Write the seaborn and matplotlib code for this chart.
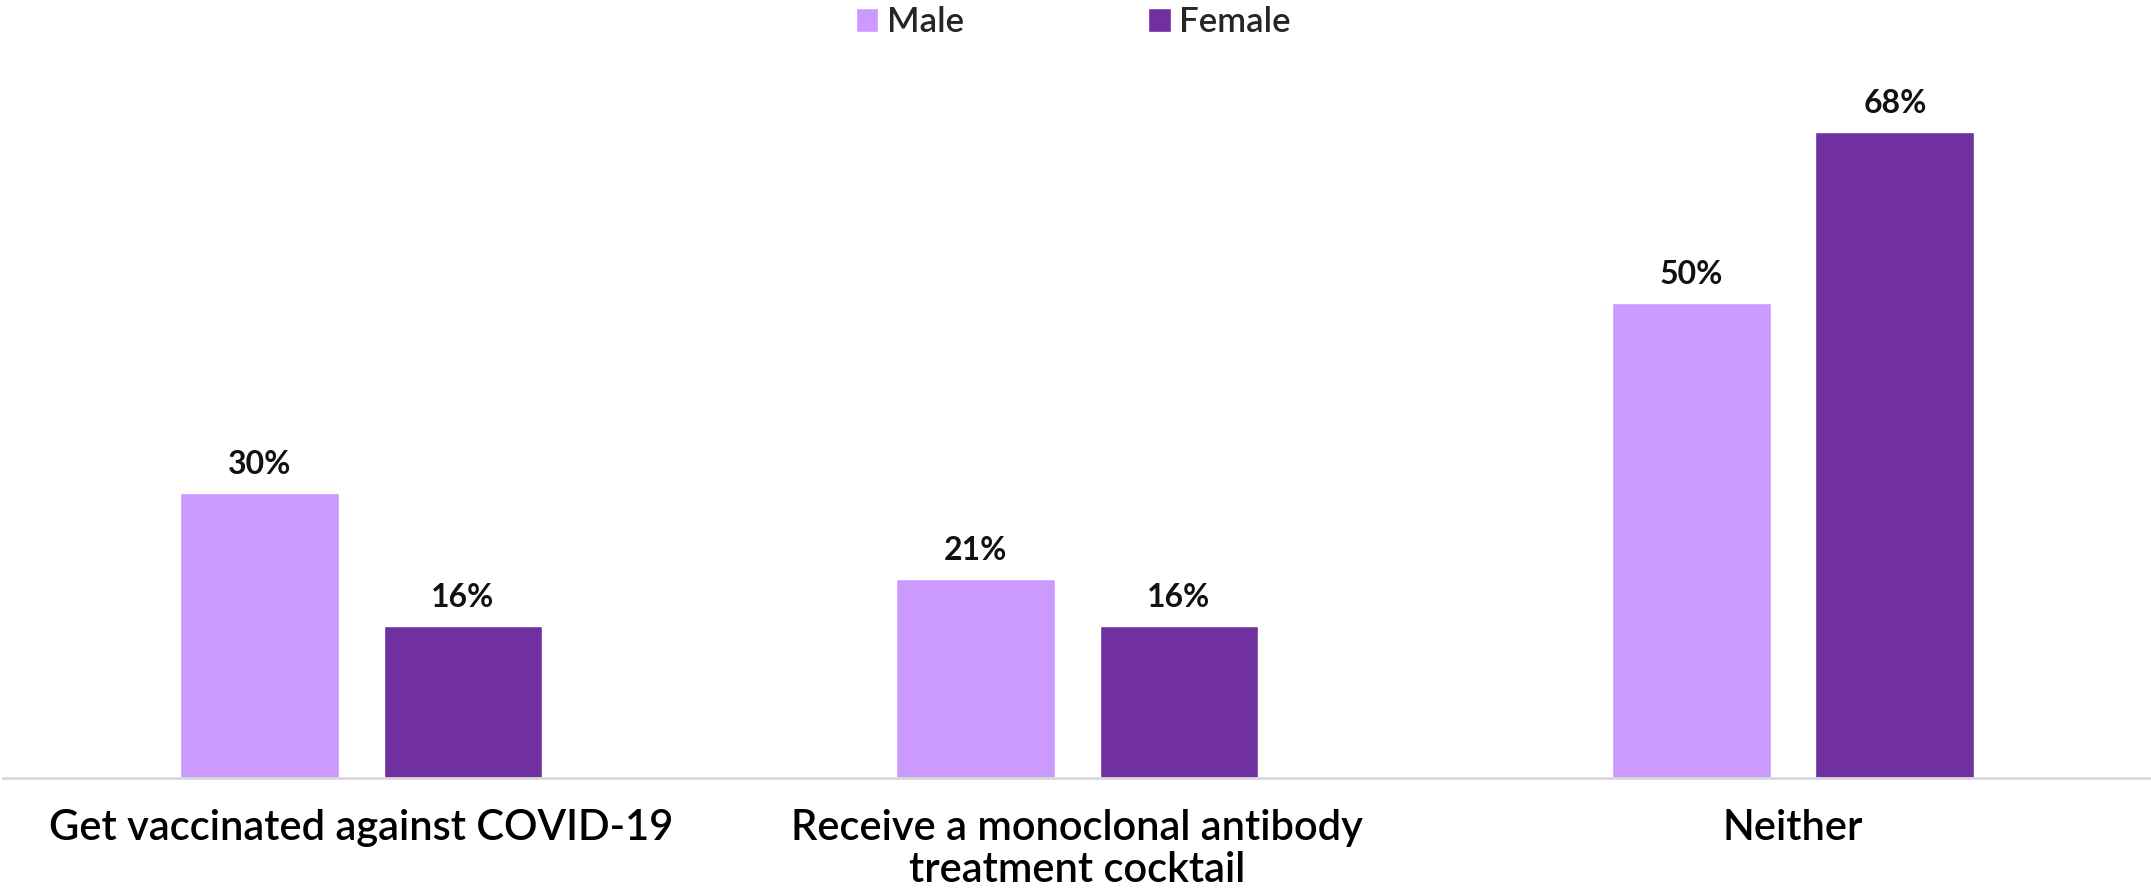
import pandas as pd
import matplotlib.pyplot as plt
import seaborn as sns

# Chart data
categories = ['Get vaccinated against COVID-19',
              'Receive a monoclonal antibody\ntreatment cocktail',
              'Neither']
male = [30, 21, 50]
female = [16, 16, 68]
groups = ['Male', 'Female']
colors = ['#CC99FF', '#7030A0']

df = pd.DataFrame({
    'category': categories * 2,
    'group': ['Male'] * 3 + ['Female'] * 3,
    'value': male + female,
})

sns.set_theme(style='white')
plt.rcParams['font.family'] = ['Lato', 'DejaVu Sans']

fig = plt.figure(figsize=(21.51, 8.91), dpi=100)
ax = fig.add_axes([0.0015, 113 / 891, 0.9985, 778 / 891])

sns.barplot(data=df, x='category', y='value', hue='group', hue_order=groups,
            palette=colors, width=0.569, gap=0.22, ax=ax, saturation=1,
            errorbar=None)

# Value labels above bars
for cont in ax.containers:
    ax.bar_label(cont, labels=[f'{v:.0f}%' for v in cont.datavalues],
                 padding=10, fontsize=23, fontweight='bold', color='#111111')

ax.set_xlim(-0.5, 2.5)
ax.set_ylim(0, 81.9)
ax.set_xlabel('')
ax.set_ylabel('')
ax.set_yticks([])
ax.tick_params(axis='x', length=0, pad=22, labelsize=30, colors='#000000')
for lbl in ax.get_xticklabels():
    lbl.set_linespacing(1.15)
    lbl.set_fontweight('semibold')

for side in ['top', 'right', 'left']:
    ax.spines[side].set_visible(False)
ax.spines['bottom'].set_color('#D9D9D9')
ax.spines['bottom'].set_linewidth(2)

handles, labels = ax.get_legend_handles_labels()
leg = ax.legend(handles, labels, loc='center', bbox_to_anchor=(0.499, 0.975),
                bbox_transform=fig.transFigure, ncol=2, frameon=False,
                fontsize=25, handlelength=0.65, handleheight=0.65,
                handletextpad=0.25, columnspacing=5.3)
for t in leg.get_texts():
    t.set_fontweight('semibold')

fig.savefig('out.png', dpi=100)
